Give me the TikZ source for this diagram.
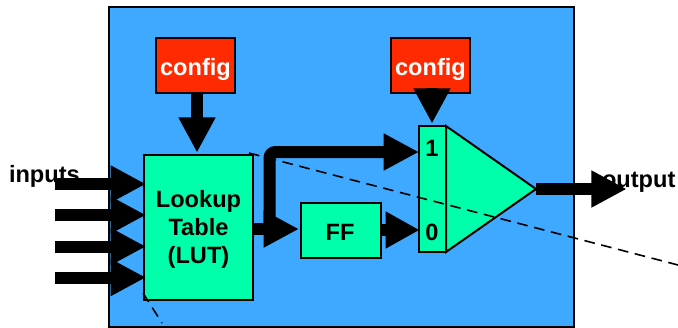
\documentclass[tikz,border=0pt]{standalone}
\usepackage{fontspec}
\setmainfont{Liberation Sans}
\usetikzlibrary{arrows.meta}
\definecolor{fpgablue}{HTML}{3FA9FF}
\definecolor{lutgreen}{HTML}{00FFAA}
\definecolor{cfgred}{HTML}{FF2A00}
\tikzset{
  lbl/.style={font=\fontsize{17.7}{21}\selectfont\bfseries,inner sep=0pt,outer sep=0pt},
  blockbox/.style={draw=black,line width=1.5pt,inner sep=0pt,outer sep=0pt,anchor=north west,lbl},
  greenbox/.style={blockbox,fill=lutgreen,align=center},
  redbox/.style={blockbox,fill=cfgred,text=white},
  fat/.style={line width=9pt,draw=black,-{Triangle[length=26.5pt,width=26pt,fill=black]},shorten >=-0.5pt},
  dashline/.style={draw=black,line width=1.2pt,dash pattern=on 8pt off 5pt}
}
\begin{document}
\begin{tikzpicture}[x=0.75pt,y=-0.75pt]
\useasboundingbox (0,0) rectangle (678,328);
% labels lie beneath the arrows
\node[lbl,anchor=base west] (inlabel) at (9,182) {inputs};
\node[lbl,anchor=base west] (outlabel) at (602,187) {output};
% main block
\node[draw=black,line width=1.5pt,fill=fpgablue,inner sep=0pt,outer sep=0pt,anchor=north west,minimum width=348.75pt,minimum height=240pt] (fpga) at (109,7) {};
% boxes
\node[redbox,minimum width=59.25pt,minimum height=41.25pt] (cfgA) at (156,38) {};
\node[redbox,minimum width=59.25pt,minimum height=41.25pt] (cfgB) at (391,38) {};
\node[lbl,text=white,anchor=base] (cfgAt) at (195.5,76) {config};
\node[lbl,text=white,anchor=base] (cfgBt) at (430.5,76) {config};
\node[greenbox,minimum width=81.75pt,minimum height=108.75pt] (lut) at (144,155) {};
\node[lbl,anchor=base] (lutA) at (198.5,207) {Lookup};
\node[lbl,anchor=base] (lutB) at (198.5,235) {Table};
\node[lbl,anchor=base] (lutC) at (198.5,263) {(LUT)};
\node[greenbox,minimum width=60pt,minimum height=41.25pt] (ff) at (301,203) {};
\node[lbl,anchor=base] (fft) at (340,240) {FF};
% multiplexer
\coordinate (muxtop) at (446,126);
\coordinate (muxbot) at (446,252);
\coordinate (muxout) at (536,189);
\draw[fill=lutgreen,line width=1.5pt,line join=miter] (muxtop) -- (muxout) -- (muxbot) -- cycle;
\node[greenbox,minimum width=20.25pt,minimum height=94.5pt] (muxin) at (419,126) {};
\node[lbl,anchor=base] (one) at (432,156) {1};
\node[lbl,anchor=base] (zero) at (432,240) {0};
% inputs
\coordinate (i1) at (55,184);
\coordinate (i2) at (55,215);
\coordinate (i3) at (55,246.5);
\coordinate (i4) at (55,277.5);
\foreach \n in {1,2,3,4} \draw[fat,shorten >=-1.5pt] (i\n) -- (i\n -| lut.west);
% config arrows
\draw[fat] (cfgA.south -| 197,0) -- (197,152);
\draw[fat] (432,88) -- (432,123);
% LUT outputs
\coordinate (lutout) at (lut.east |- 0,229);
\draw[fat,shorten >=1.5pt] (lutout) -- (ff.west |- lutout);
\draw[line width=9pt,rounded corners=4.5pt,-{Triangle[length=26.5pt,width=26pt,fill=black]}] (269.5,235) -- (269.5,152) -- (muxin.west |- 0,152);
\draw[fat,-{Triangle[length=25.5pt,width=26pt,fill=black]}] (ff.east |- 0,230) -- (muxin.west |- 0,230);
% output
\coordinate (outend) at (626,189);
\draw[fat] (muxout) -- (outend);
% dashed lines
\coordinate (dA) at (249,153);
\coordinate (dB) at (678,265);
\coordinate (dC) at (143,293);
\coordinate (dD) at (162,323);
\draw[dashline] (dA) -- (dB);
\draw[dashline] (dC) -- (dD);
\end{tikzpicture}
\end{document}
